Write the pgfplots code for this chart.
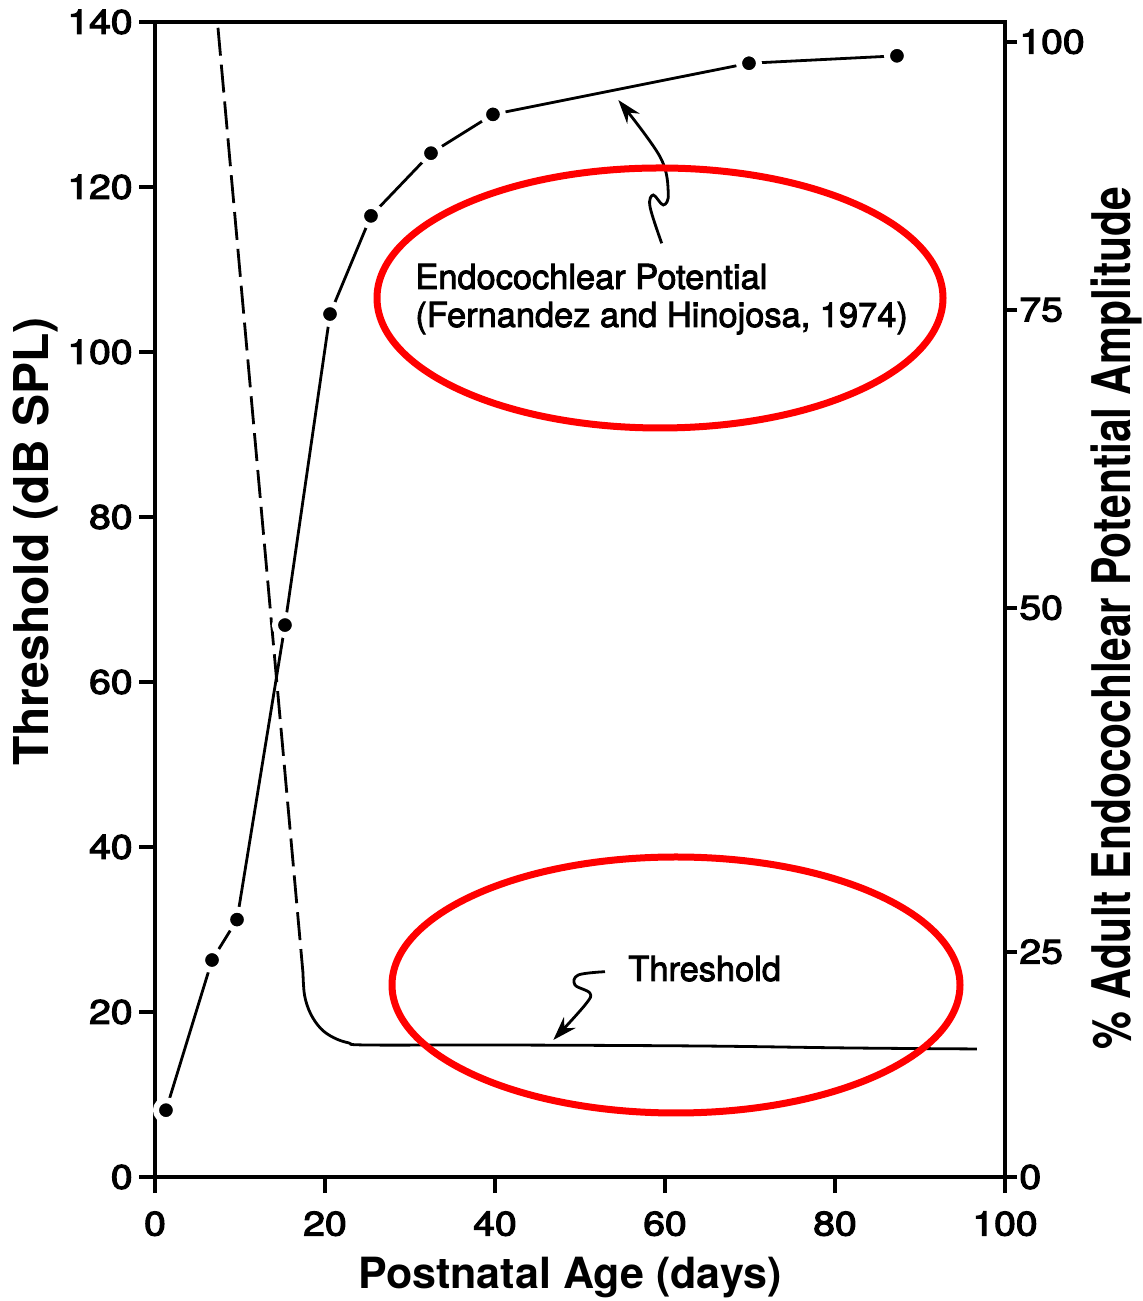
\documentclass[border=0pt]{standalone}
\usepackage{fontspec}
\setmainfont{TeX Gyre Heros}
\newfontfamily\medfont[FakeBold=3]{TeX Gyre Heros}
\newfontfamily\annmed[FakeBold=2.5]{TeX Gyre Heros}
\usepackage{graphicx}
\usepackage{pgfplots}
\pgfplotsset{compat=1.18}
\usetikzlibrary{arrows.meta}
\newcommand\wide[1]{\scalebox{1.15}[1]{#1}}
\newcommand\tickfont{\medfont\fontsize{17}{19}\selectfont}
\newcommand\annfont{\annmed\fontsize{17.2}{19}\selectfont}

\pgfplotstableread{
x y
1.29 8.1
6.71 26.3
9.65 31.2
15.29 66.9
20.59 104.6
25.41 116.5
32.47 124.1
39.76 128.8
69.88 135.0
87.29 135.9
}\ep

\pgfplotstableread{
x y
7.41 139.3
17.41 24.73
}\thrdash

\pgfplotstableread{
x y
17.41 24.73
17.6 22.0
18.3 19.8
19.5 18.0
21.0 16.9
22.8 16.25
25.0 16.0
40.6 16.0
64.1 15.88
81.8 15.64
96.7 15.52
}\thrsolid

\begin{document}
\begin{tikzpicture}
\useasboundingbox (-77.5pt,-62pt) rectangle (494pt,588.5pt);
\begin{axis}[
  at={(0,0)}, anchor=south west,
  scale only axis, width=425pt, height=577.5pt,
  xmin=0, xmax=100, ymin=0, ymax=140,
  axis line style={line width=2pt},
  axis on top,
  xtick={0,20,40,60,80,100},
  xticklabels={\wide{0},\wide{20},\wide{40},\wide{60},\wide{80},\wide{100}},
  ytick={0,20,40,60,80,100,120,140},
  yticklabels={\wide{0},\wide{20},\wide{40},\wide{60},\wide{80},\wide{100},\wide{120},\wide{140}},
  xtick pos=left, ytick pos=left,
  tick align=outside,
  major tick length=8pt,
  tick style={line width=2pt, black},
  tick label style={font=\tickfont},
  xticklabel style={inner sep=0pt, yshift=-9pt},
  yticklabel style={inner sep=0pt, xshift=-3pt},
  xlabel={Postnatal Age (days)},
  ylabel={Threshold (dB SPL)},
  xlabel style={at={(rel axis cs:0.488,-0.0874)}, anchor=center, font=\fontsize{21.5}{24}\selectfont\bfseries},
  ylabel style={at={(rel axis cs:-0.141,0.55)}, anchor=center, font=\fontsize{24}{26}\selectfont\bfseries},
  clip=false,
]
\addplot[black, line width=1.4pt, mark=*, mark size=5pt,
  mark options={draw=white, fill=black, line width=3pt, solid}] table {\ep};
\addplot[black, line width=1.4pt, dash pattern=on 14pt off 4.5pt] table {\thrdash};
\addplot[black, line width=1.4pt, smooth, tension=0.6] table {\thrsolid};
\end{axis}
\begin{axis}[
  at={(0,0)}, anchor=south west,
  scale only axis, width=425pt, height=577.5pt,
  xmin=0, xmax=100, ymin=0, ymax=140,
  axis x line=none, axis y line*=right,
  axis line style={line width=2pt, -},
  ytick={0,27.3,69.0,105.1,137.6},
  yticklabels={\wide{0},\wide{25},\wide{50},\wide{75},\wide{100}},
  tick align=outside, major tick length=6pt,
  tick style={line width=2pt, black},
  yticklabel style={inner sep=0pt, xshift=1pt, font=\tickfont},
  ylabel={\scalebox{1}[1.25]{\% Adult Endocochlear Potential Amplitude}},
  ylabel style={at={(rel axis cs:1.131,0.484)}, anchor=center, font=\fontsize{21.3}{24}\selectfont\bfseries},
]
\end{axis}
\begin{scope}[shift={(-77.5pt,588.5pt)}, x=0.5pt, y=-0.5pt]
  \node[anchor=base west, inner sep=0pt, font=\annfont] at (415,289) {Endocochlear Potential};
  \node[anchor=base west, inner sep=0pt, font=\annfont] at (415,327) {(Fernandez and Hinojosa, 1974)};
  \node[anchor=base west, inner sep=0pt, font=\annfont] at (628,981) {Threshold};
  \draw[line width=1.4pt, -{Stealth[length=12pt,width=8pt]}]
    plot[smooth, tension=0.6] coordinates {(661.7,243.3) (650,206.7) (653.3,195) (663.3,205) (668.3,193.3) (660,156.7) (618.3,100)};
  \draw[line width=1.4pt, -{Stealth[length=12pt,width=8pt]}]
    plot[smooth, tension=0.6] coordinates {(605,971.7) (578.3,975) (575,985) (590,993.3) (585,1005) (553.3,1040)};
  \draw[red, line width=3.5pt] (660,298) ellipse [x radius=141.5pt, y radius=65pt];
  \draw[red, line width=3.5pt] (676,985) ellipse [x radius=142pt, y radius=64pt];
\end{scope}
\end{tikzpicture}
\end{document}
